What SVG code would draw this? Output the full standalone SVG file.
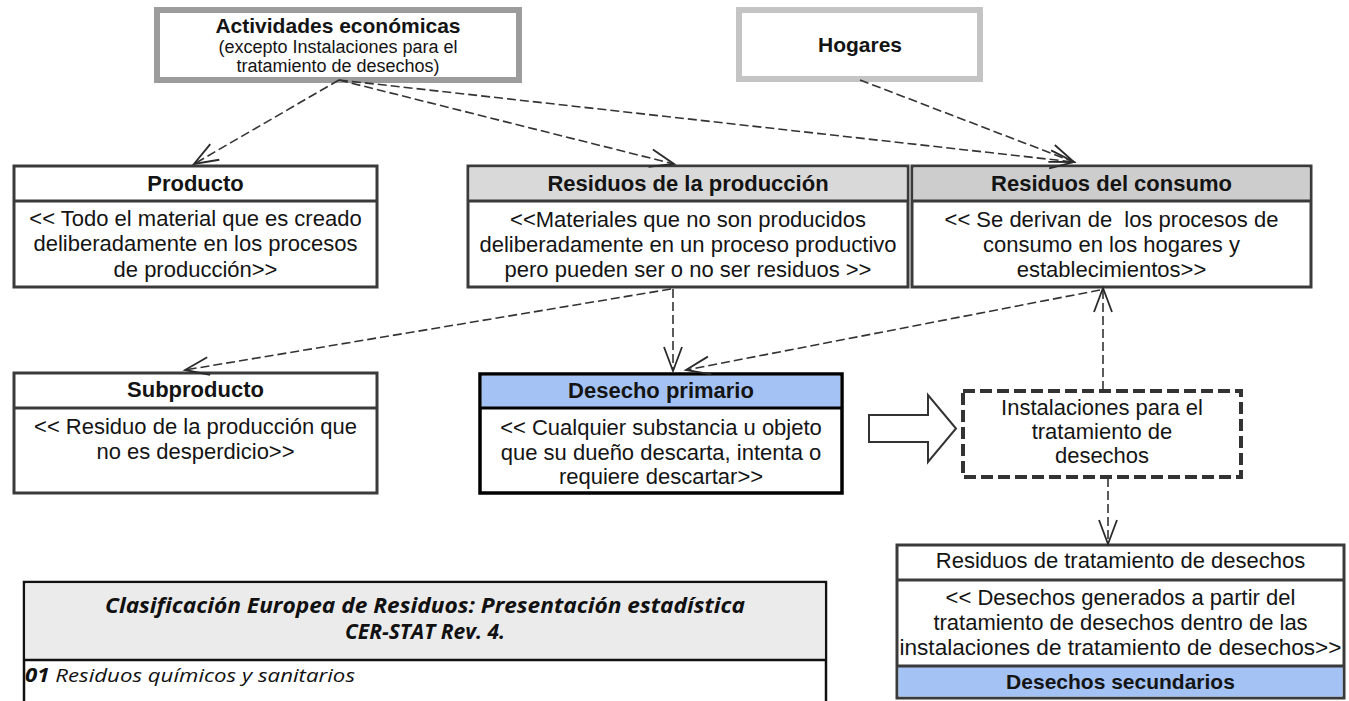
<svg xmlns="http://www.w3.org/2000/svg" width="1349" height="701" viewBox="0 0 1349 701">
<style>
.t{font-family:"Liberation Sans",Arial,sans-serif;fill:#141414;text-anchor:middle}
.b{font-weight:bold}
.f22{font-size:22px}
.box{fill:#fff;stroke:#3a3a3a;stroke-width:3}
.hdr{stroke:#3a3a3a;stroke-width:3}
.conn line{stroke:#333;stroke-width:1.6;stroke-dasharray:9 4;fill:none}
.cer{font-family:"Open Sans","Liberation Sans",sans-serif;font-style:italic;fill:#111}
</style>
<defs>
<marker id="v" markerUnits="userSpaceOnUse" markerWidth="28" markerHeight="22" refX="25" refY="11" orient="auto">
<path d="M1,2 L25,11 L1,20" fill="none" stroke="#2a2a2a" stroke-width="1.8"/>
</marker>
</defs>

<g id="actividades">
<rect x="157" y="10" width="362" height="70" fill="#fff" stroke="#9c9c9c" stroke-width="6"/>
<text class="t b" x="338" y="33" font-size="21">Actividades económicas</text>
<text class="t" x="338" y="53" font-size="18">(excepto Instalaciones para el</text>
<text class="t" x="338" y="72" font-size="18">tratamiento de desechos)</text>
</g>

<g id="hogares">
<rect x="739" y="10" width="241" height="69" fill="#fff" stroke="#c4c4c4" stroke-width="6"/>
<text class="t b" x="860" y="52" font-size="21">Hogares</text>
</g>

<g id="producto">
<rect class="box" x="14" y="166" width="363" height="121"/>
<line class="hdr" x1="14" y1="201" x2="377" y2="201"/>
<text class="t b f22" x="195.5" y="191">Producto</text>
<text class="t f22" x="195.5" y="226">&lt;&lt; Todo el material que es creado</text>
<text class="t f22" x="195.5" y="251">deliberadamente en los procesos</text>
<text class="t f22" x="195.5" y="277">de producción&gt;&gt;</text>
</g>

<g id="residuos-produccion">
<rect class="box" x="468" y="166" width="440" height="121"/>
<rect x="469.5" y="167.5" width="437" height="33" fill="#d9d9d9"/>
<line class="hdr" x1="468" y1="201" x2="908" y2="201"/>
<text class="t b f22" x="688" y="191">Residuos de la producción</text>
<text class="t f22" x="688" y="227">&lt;&lt;Materiales que no son producidos</text>
<text class="t f22" x="688" y="252">deliberadamente en un proceso productivo</text>
<text class="t f22" x="688" y="277">pero pueden ser o no ser residuos &gt;&gt;</text>
</g>

<g id="residuos-consumo">
<rect class="box" x="912" y="166" width="399" height="121"/>
<rect x="913.5" y="167.5" width="396" height="33" fill="#cdcdcd"/>
<line class="hdr" x1="912" y1="201" x2="1311" y2="201"/>
<text class="t b f22" x="1111.5" y="191">Residuos del consumo</text>
<text class="t f22" x="1111.5" y="227" xml:space="preserve">&lt;&lt; Se derivan de  los procesos de</text>
<text class="t f22" x="1111.5" y="252">consumo en los hogares y</text>
<text class="t f22" x="1111.5" y="277">establecimientos&gt;&gt;</text>
</g>

<g id="subproducto">
<rect class="box" x="14" y="373" width="363" height="120"/>
<line class="hdr" x1="14" y1="408" x2="377" y2="408"/>
<text class="t b f22" x="195.5" y="397">Subproducto</text>
<text class="t f22" x="195.5" y="434">&lt;&lt; Residuo de la producción que</text>
<text class="t f22" x="195.5" y="459">no es desperdicio&gt;&gt;</text>
</g>

<g id="desecho-primario">
<rect x="480" y="374" width="362" height="119" fill="#fff" stroke="#000" stroke-width="3.5"/>
<rect x="481.8" y="375.8" width="358.4" height="32" fill="#a4c2f4"/>
<line x1="480" y1="408" x2="842" y2="408" stroke="#000" stroke-width="3"/>
<text class="t b f22" x="661" y="398">Desecho primario</text>
<text class="t f22" x="661" y="435">&lt;&lt; Cualquier substancia u objeto</text>
<text class="t f22" x="661" y="460">que su dueño descarta, intenta o</text>
<text class="t f22" x="661" y="484">requiere descartar&gt;&gt;</text>
</g>

<g id="flecha-hueca">
<polygon points="869,415 928,415 928,395 956,428.5 928,462 928,442 869,442" fill="#fff" stroke="#333" stroke-width="2"/>
</g>

<g id="instalaciones">
<rect x="963" y="391" width="278" height="86" fill="#fff" stroke="#333" stroke-width="4" stroke-dasharray="12 5"/>
<text class="t f22" x="1102" y="415">Instalaciones para el</text>
<text class="t f22" x="1102" y="439">tratamiento de</text>
<text class="t f22" x="1102" y="463">desechos</text>
</g>

<g id="residuos-tratamiento">
<rect class="box" x="897" y="545" width="447" height="153"/>
<line class="hdr" x1="897" y1="580" x2="1344" y2="580"/>
<rect x="898.5" y="667" width="444" height="29.5" fill="#a4c2f4"/>
<line class="hdr" x1="897" y1="666" x2="1344" y2="666"/>
<text class="t f22" x="1120.5" y="568">Residuos de tratamiento de desechos</text>
<text class="t f22" x="1120.5" y="605">&lt;&lt; Desechos generados a partir del</text>
<text class="t f22" x="1120.5" y="630">tratamiento de desechos dentro de las</text>
<text class="t f22" x="1120.5" y="655" textLength="442" lengthAdjust="spacingAndGlyphs">instalaciones de tratamiento de desechos&gt;&gt;</text>
<text class="t b" x="1120.5" y="689" font-size="21">Desechos secundarios</text>
</g>

<g id="cer-stat">
<rect x="24" y="582" width="802" height="130" fill="#fff" stroke="#111" stroke-width="2.5"/>
<rect x="25.3" y="583.3" width="799.4" height="76.5" fill="#ebebeb"/>
<line x1="24" y1="660" x2="826" y2="660" stroke="#111" stroke-width="2.5"/>
<text class="cer" x="425" y="613" font-size="21" font-weight="bold" text-anchor="middle" textLength="640" lengthAdjust="spacingAndGlyphs">Clasificación Europea de Residuos: Presentación estadística</text>
<text class="cer" x="425" y="639" font-size="21" font-weight="bold" text-anchor="middle" textLength="160" lengthAdjust="spacingAndGlyphs">CER-STAT Rev. 4.</text>
<text class="cer" x="25" y="682" font-size="19" textLength="330" lengthAdjust="spacingAndGlyphs"><tspan font-weight="bold">01</tspan> Residuos químicos y sanitarios</text>
</g>

<g id="connectors" class="conn">
<line x1="339" y1="80" x2="194" y2="164" marker-end="url(#v)"/>
<line x1="339" y1="80" x2="674" y2="164" marker-end="url(#v)"/>
<line x1="339" y1="80" x2="1074" y2="162" marker-end="url(#v)"/>
<line x1="860" y1="80" x2="1074" y2="162" marker-end="url(#v)"/>
<line x1="671" y1="289" x2="185" y2="370" marker-end="url(#v)"/>
<line x1="673" y1="289" x2="673" y2="371" marker-end="url(#v)"/>
<line x1="1100" y1="290" x2="686" y2="370" marker-end="url(#v)"/>
<line x1="1103" y1="390" x2="1103" y2="288" marker-end="url(#v)"/>
<line x1="1108" y1="478" x2="1108" y2="544" marker-end="url(#v)"/>
</g>
</svg>
